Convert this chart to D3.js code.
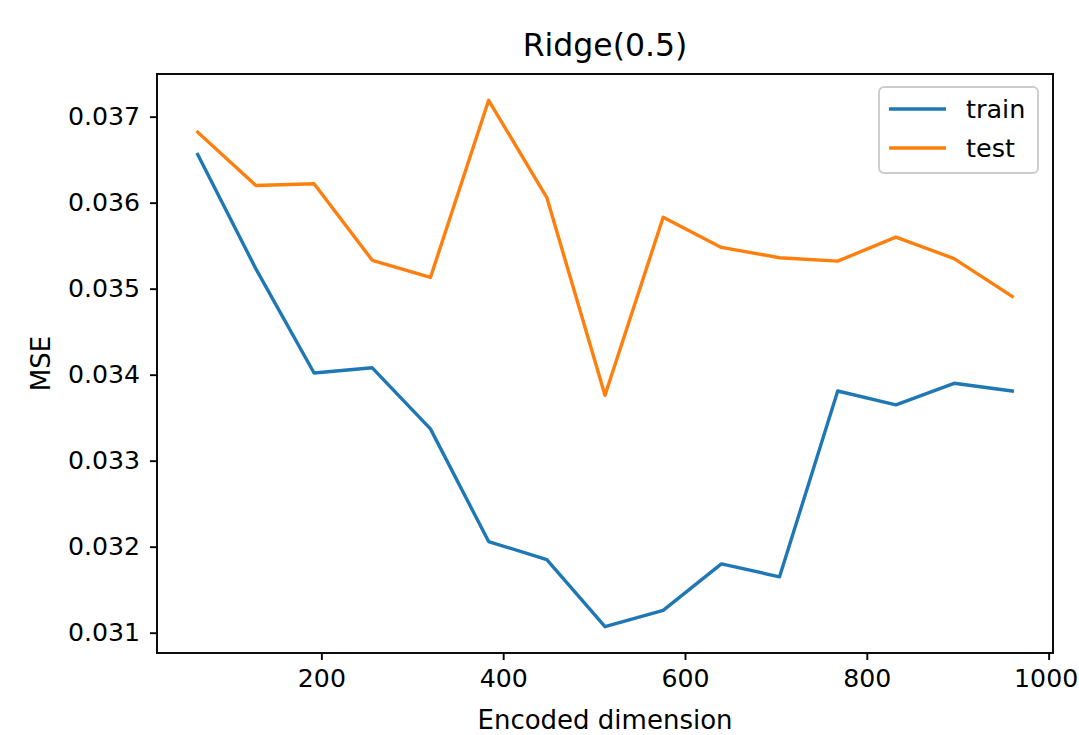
<!DOCTYPE html>
<html>
<head>
<meta charset="utf-8">
<script src="https://cdn.jsdelivr.net/npm/d3@7"></script>
<style>
    html, body { margin: 0; padding: 0; background: white; }
    svg { display: block; font-family: "DejaVu Sans", sans-serif; }
</style>
</head>
<body>
<script>
// encoded dimensions (x) and mse per run
let dims = [64, 128, 192, 256, 320, 384, 448, 512, 576, 640, 704, 768, 832, 896, 960];
let train = [0.03656, 0.03523, 0.03402, 0.03408, 0.03337, 0.03206, 0.03185, 0.03107, 0.03126, 0.03180, 0.03165, 0.03381, 0.03365, 0.03390, 0.03381];
let test = [0.03682, 0.03620, 0.03622, 0.03533, 0.03513, 0.03719, 0.03606, 0.03376, 0.03583, 0.03548, 0.03536, 0.03532, 0.03560, 0.03535, 0.03491];
let x_ticks = [200, 400, 600, 800, 1000];
let y_ticks = [0.031, 0.032, 0.033, 0.034, 0.035, 0.036, 0.037];
let series_names = ["train", "test"];
let series_colors = ["#1f77b4", "#ff7f0e"];

let W = 1079, H = 735;
// plot box (window.top is taken, so prefix these)
let ax_left = 157, ax_right = 1053, ax_top = 74, ax_bottom = 653;

let svg = d3.select("body").append("svg")
    .attr("width", W).attr("height", H)
    .attr("viewBox", `0 0 ${W} ${H}`);
let g = svg.append("g").attr("class", "graph");

// matplotlib style 5% margins
let pad = ([a, b]) => [a - (b - a) * 0.05, b + (b - a) * 0.05];
let x = d3.scaleLinear().domain(pad(d3.extent(dims))).range([ax_left, ax_right]);
let y = d3.scaleLinear().domain(pad(d3.extent(train.concat(test)))).range([ax_bottom, ax_top]);

// axes
let axis_x = d3.axisBottom(x).tickValues(x_ticks).tickSize(7).tickPadding(9).tickFormat(d3.format("d"));
let axis_x_draw = g.append("g").attr("class", "scale_x")
    .attr("transform", `translate(0, ${ax_bottom})`)
    .call(axis_x);
let axis_y = d3.axisLeft(y).tickValues(y_ticks).tickSize(7).tickPadding(10).tickFormat(d3.format(".3f"));
let axis_y_draw = g.append("g").attr("class", "scale_y")
    .attr("transform", `translate(${ax_left}, 0)`)
    .call(axis_y);
[axis_x_draw, axis_y_draw].forEach(a => {
    a.attr("font-family", "DejaVu Sans").attr("font-size", null);
    a.select(".domain").remove();
    a.selectAll(".tick line").attr("stroke", "black").attr("stroke-width", 1.9);
    a.selectAll(".tick text").attr("fill", "black").style("font-size", "25.2px");
});
// last x label sits right at the page edge, pull it in a touch
axis_x_draw.selectAll(".tick text").filter(d => d === 1000).attr("dx", -3);

// lines
let line = d3.line().x((d, i) => x(dims[i])).y(d => y(d));
g.append("g").attr("class", "lines")
    .selectAll("path").data([train, test]).enter()
    .append("path")
        .attr("d", line)
        .attr("fill", "none")
        .attr("stroke", (d, i) => series_colors[i])
        .attr("stroke-width", 3.4)
        .attr("stroke-linejoin", "round")
        .attr("stroke-linecap", "square");

// frame
g.append("rect")
    .attr("x", ax_left).attr("y", ax_top)
    .attr("width", ax_right - ax_left).attr("height", ax_bottom - ax_top)
    .attr("fill", "none")
    .attr("stroke", "black")
    .attr("stroke-width", 1.9);

// title and labels
g.append("text").text("Ridge(0.5)")
    .attr("x", (ax_left + ax_right) / 2).attr("y", 56)
    .attr("text-anchor", "middle")
    .style("font-size", "31.5px");
g.append("text").text("Encoded dimension")
    .attr("x", (ax_left + ax_right) / 2).attr("y", 729)
    .attr("text-anchor", "middle")
    .style("font-size", "26px");
g.append("text").text("MSE")
    .attr("transform", `translate(50, ${(ax_top + ax_bottom) / 2}) rotate(-90)`)
    .attr("text-anchor", "middle")
    .style("font-size", "26px");

// legend
let legend = g.append("g").attr("class", "legend").attr("transform", "translate(879, 87)");
legend.append("rect")
    .attr("width", 159).attr("height", 86)
    .attr("rx", 5).attr("ry", 5)
    .attr("fill", "white").attr("fill-opacity", 0.8)
    .attr("stroke", "#cccccc").attr("stroke-width", 1.9);
let items = legend.selectAll("g.item").data(series_names).enter()
    .append("g").attr("class", "item")
    .attr("transform", (d, i) => `translate(0, ${22 + i * 39})`);
items.append("line")
    .attr("x1", 10).attr("x2", 67)
    .attr("stroke", (d, i) => series_colors[i])
    .attr("stroke-width", 3.4);
items.append("text").text(d => d)
    .attr("x", 87).attr("dy", "0.35em")
    .style("font-size", "25.5px");
</script>
</body>
</html>
